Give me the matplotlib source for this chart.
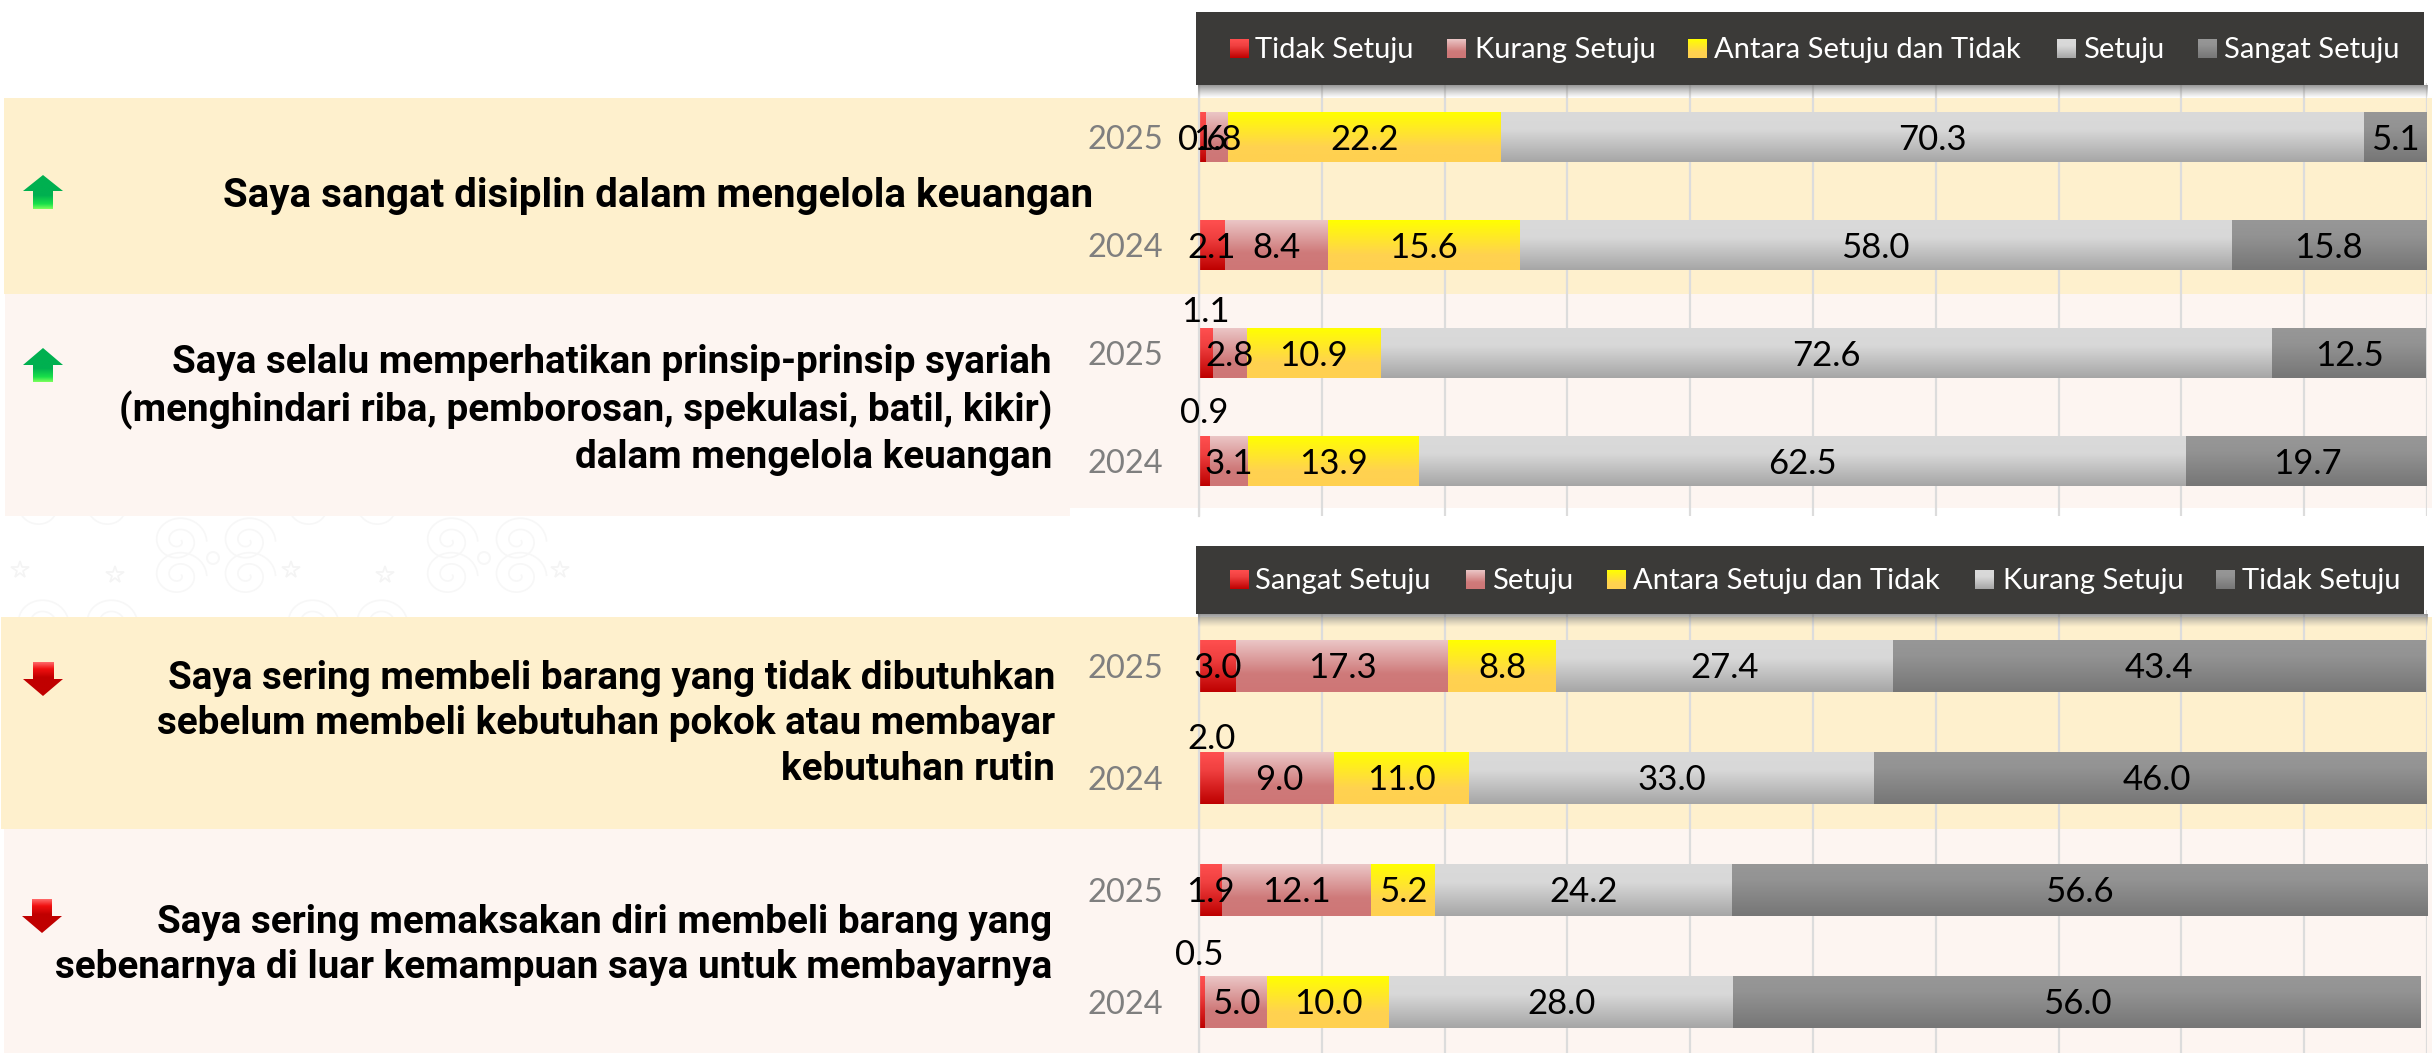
import numpy as np
import matplotlib
matplotlib.use("Agg")
import matplotlib.pyplot as plt
from matplotlib.colors import LinearSegmentedColormap
from matplotlib.patches import Polygon, Rectangle

# ---------- data ----------
years = ["2025", "2024", "2025", "2024"]

# upper chart
legend_top = ["Tidak Setuju", "Kurang Setuju", "Antara Setuju dan Tidak", "Setuju", "Sangat Setuju"]
top_tidak = [0.6, 2.1, 1.1, 0.9]
top_kurang = [1.8, 8.4, 2.8, 3.1]
top_antara = [22.2, 15.6, 10.9, 13.9]
top_setuju = [70.3, 58.0, 72.6, 62.5]
top_sangat = [5.1, 15.8, 12.5, 19.7]

# lower chart
legend_bot = ["Sangat Setuju", "Setuju", "Antara Setuju dan Tidak", "Kurang Setuju", "Tidak Setuju"]
bot_sangat = [3.0, 2.0, 1.9, 0.5]
bot_setuju = [17.3, 9.0, 12.1, 5.0]
bot_antara = [8.8, 11.0, 5.2, 10.0]
bot_kurang = [27.4, 33.0, 24.2, 28.0]
bot_tidak = [43.4, 46.0, 56.6, 56.0]

statements = [
    "Saya sangat disiplin dalam mengelola keuangan",
    "Saya selalu memperhatikan prinsip-prinsip syariah\n(menghindari riba, pemborosan, spekulasi, batil, kikir)\ndalam mengelola keuangan",
    "Saya sering membeli barang yang tidak dibutuhkan\nsebelum membeli kebutuhan pokok atau membayar\nkebutuhan rutin",
    "Saya sering memaksakan diri membeli barang yang\nsebenarnya di luar kemampuan saya untuk membayarnya",
]

# ---------- style ----------
W, H = 2432, 1053
LABEL_FONT = "Lato"
STATEMENT_FONT = "Roboto"
BAND_A = "#FEF0CD"
BAND_B = "#FDF5F1"
GRID = "#DCDCDC"
LEGEND_BG = "#3B3A38"
GRADS = [
    [(0.0, "#FF4F4F"), (0.35, "#F04040"), (1.0, "#BE0000")],
    [(0.0, "#EBC6C6"), (0.65, "#CF7A7A"), (1.0, "#CE7676")],
    [(0.0, "#FFFF00"), (0.7, "#FFD250"), (1.0, "#FFD050")],
    [(0.0, "#DADADA"), (0.35, "#D8D8D8"), (1.0, "#A6A6A6")],
    [(0.0, "#979797"), (0.3, "#939393"), (1.0, "#767676")],
]
CMAPS = [LinearSegmentedColormap.from_list(f"g{i}", g) for i, g in enumerate(GRADS)]
GRAD_IMG = np.linspace(0, 1, 128).reshape(-1, 1)

fig = plt.figure(figsize=(W / 100, H / 100), dpi=100, facecolor="white")


def px_axes(left, top, right, bottom, z):
    return fig.add_axes([left / W, 1 - bottom / H, (right - left) / W, (bottom - top) / H], zorder=z)


def gradient(ax, x0, x1, y0, y1, cmap, z=2):
    return ax.imshow(GRAD_IMG, extent=(x0, x1, y1, y0), origin="upper", aspect="auto",
                     cmap=cmap, vmin=0, vmax=1, interpolation="bilinear", zorder=z)


# ---------- background in pixel coordinates ----------
bg = px_axes(0, 0, W, H, 0)
bg.set_xlim(0, W)
bg.set_ylim(H, 0)
bg.axis("off")

# faint batik motif in the gap between the two panels
motif = "#F7F7F7"
for cx, cy in [(213, 558), (484, 558), (75, 640), (345, 640), (75, 490), (345, 490)]:
    for ang in np.radians([35, 145, 215, 325]):
        t = np.linspace(0, 4 * np.pi, 90)
        r = 3 + 2.0 * t
        sx = cx + 42 * np.cos(ang) + r * np.cos(t)
        sy = cy + 30 * np.sin(ang) + 0.9 * r * np.sin(t)
        bg.plot(sx, sy, color=motif, lw=1.2, zorder=0.5)
    bg.add_patch(plt.Circle((cx, cy), 6, fill=False, ec=motif, lw=1.4, zorder=0.5))
for sx, sy in [(20, 570), (115, 575), (291, 570), (385, 575), (560, 570)]:
    bg.plot([sx], [sy], marker="*", ms=13, mfc="none", mec="#F4F4F4", mew=1.2, zorder=0.5)

bands = [
    (4, W, 98, 294, BAND_A),
    (5, 1070, 294, 516, BAND_B),
    (1070, W, 294, 508, BAND_B),
    (1, W, 617, 829, BAND_A),
    (4, W, 829, H, BAND_B),
]
for x0, x1, y0, y1, col in bands:
    bg.add_patch(Rectangle((x0, y0), x1 - x0, y1 - y0, fc=col, ec="none", zorder=1))


# ---------- stacked bar charts ----------
def stacked(left, top, right, bottom, slot, bar_px, series, above):
    ax = px_axes(left, top, right, bottom, 1)
    ax.patch.set_alpha(0)
    ypos = np.arange(len(years), dtype=float)
    y_top, y_bot = -0.5, -0.5 + (bottom - top) / slot
    nudge = 2.5 / slot
    cum = np.zeros(len(years))
    for k, vals in enumerate(series):
        vals = np.asarray(vals, dtype=float)
        bars = ax.barh(ypos, vals, left=cum, height=bar_px / slot, color=GRADS[k][1][1], zorder=2)
        for i, b in enumerate(bars):
            x0, x1 = b.get_x(), min(b.get_x() + b.get_width(), 100)
            y0, y1 = b.get_y(), b.get_y() + b.get_height()
            gradient(ax, x0, x1, y0, y1, CMAPS[k], z=2.1)
            centre = cum[i] + vals[i] / 2
            if k == 0 and i in above:
                ax.annotate(f"{vals[i]:.1f}", (centre, ypos[i]), xytext=above[i],
                            textcoords="offset pixels", ha="center", va="center",
                            fontsize=25, family=LABEL_FONT, color="black", zorder=4)
            else:
                ax.text(centre, ypos[i] + nudge, f"{vals[i]:.1f}", ha="center", va="center",
                        fontsize=25, family=LABEL_FONT, color="black", zorder=4)
        cum += vals
    ax.set_xlim(0, 100)
    ax.set_ylim(y_bot, y_top)
    ax.set_xticks(np.arange(0, 101, 10))
    ax.tick_params(axis="x", length=0, labelbottom=False)
    ax.set_yticks(ypos)
    ax.set_yticklabels(years, fontsize=23.5, family=LABEL_FONT, color="#7F7F7F")
    ax.tick_params(axis="y", length=0, pad=26)
    ax.grid(axis="x", color=GRID, lw=1.6, zorder=1)
    ax.set_axisbelow(True)
    for s in ax.spines.values():
        s.set_visible(False)
    ax.spines["left"].set_visible(True)
    ax.spines["left"].set_color(GRID)
    ax.spines["left"].set_linewidth(1.6)
    return ax


stacked(1199, 83, 2427, 516, 108, 50,
        [top_tidak, top_kurang, top_antara, top_setuju, top_sangat],
        {2: (0, 41), 3: (0, 48)})
stacked(1199, 610, 2427, H, 112, 52,
        [bot_sangat, bot_setuju, bot_antara, bot_kurang, bot_tidak],
        {1: (0, 39), 3: (-3, 47)})

# ---------- overlay: legends, statements, arrows ----------
ov = px_axes(0, 0, W, H, 3)
ov.set_xlim(0, W)
ov.set_ylim(H, 0)
ov.axis("off")
ov.patch.set_alpha(0)

shadow = LinearSegmentedColormap.from_list("shadow", [(0.45, 0.45, 0.45, 0.75), (0.6, 0.6, 0.6, 0.0)])


def legend_box(y0, y1, sw0, sw1, names, swatch_x, text_x):
    gradient(ov, 1198, 2428, y1, y1 + 13, shadow, z=1)
    ov.add_patch(Rectangle((1196, y0), 1228, y1 - y0, fc=LEGEND_BG, ec="none", zorder=2))
    for k, name in enumerate(names):
        gradient(ov, swatch_x[k], swatch_x[k] + 19, sw0, sw1, CMAPS[k], z=3)
        ov.text(text_x[k], (sw0 + sw1) / 2 + 1.5, name, color="white", fontsize=21, family=LABEL_FONT,
                ha="left", va="center", zorder=4)


legend_box(12, 85, 39, 58, legend_top,
           [1230, 1447, 1688, 2057, 2198], [1255, 1475, 1714, 2083, 2224])
legend_box(546, 614, 570, 589, legend_bot,
           [1230, 1466, 1607, 1975, 2216], [1255, 1492, 1633, 2003, 2242])

statement_pos = [(1093, 196), (1052, 410), (1055, 724), (1052, 945)]
statement_size = [29, 27.8, 27.8, 27.8]
for txt, (x, y), size in zip(statements, statement_pos, statement_size):
    ov.text(x, y, txt, ha="right", va="center", fontsize=size, family=STATEMENT_FONT,
            fontweight="bold", color="black", linespacing=1.3, zorder=4)

green = LinearSegmentedColormap.from_list("green", [(0, "#00B050"), (0.6, "#00B050"), (0.85, "#19E04A"), (1, "#7CFF5C")])
red = LinearSegmentedColormap.from_list("red", [(0, "#FF6A6A"), (0.2, "#F01010"), (0.45, "#C00000"), (1, "#C00000")])


def arrow(x0, x1, s0, s1, y_flat, y_base, y_tip, cmap):
    cx = (x0 + x1) / 2
    pts = [(cx, y_tip), (x1, y_base), (s1, y_base), (s1, y_flat), (s0, y_flat), (s0, y_base), (x0, y_base)]
    poly = Polygon(pts, closed=True, fc="none", ec="none", transform=ov.transData)
    ov.add_patch(poly)
    y0, y1 = min(y_tip, y_flat), max(y_tip, y_flat)
    im = ov.imshow(GRAD_IMG, extent=(x0, x1, y1, y0), origin="upper",
                   aspect="auto", cmap=cmap, vmin=0, vmax=1, zorder=4)
    im.set_clip_path(poly)


arrow(23, 63, 33, 53, 209, 191, 175, green)
arrow(23, 63, 33, 53, 382, 365, 348, green)
arrow(23, 63, 33, 54, 662, 679, 696, red)
arrow(22, 62, 32, 52, 899, 916, 933, red)
ov.set_xlim(0, W)
ov.set_ylim(H, 0)

fig.savefig("out.png", dpi=100, facecolor="white")
